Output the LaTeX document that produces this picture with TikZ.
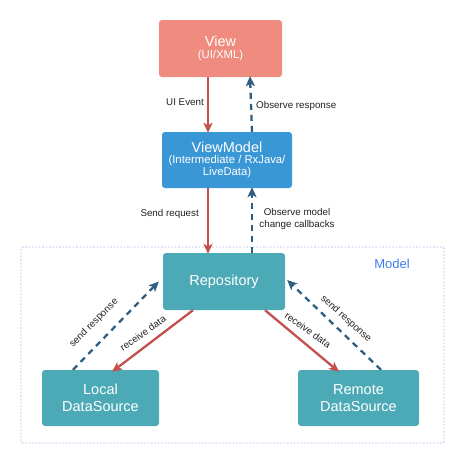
\documentclass[tikz,border=0pt]{standalone}
\usepackage{fontspec}
\setmainfont{Liberation Sans}
\usetikzlibrary{arrows.meta,calc}
\definecolor{viewc}{HTML}{F08C7F}
\definecolor{vmc}{HTML}{3A97D6}
\definecolor{repc}{HTML}{4BAAB6}
\definecolor{redarr}{HTML}{C2514E}
\definecolor{bluearr}{HTML}{2F5E80}
\definecolor{modelbox}{HTML}{A5B6E2}
\definecolor{modeltext}{HTML}{3D7EF0}
\definecolor{labc}{HTML}{222222}
\tikzset{
  box/.style={rounded corners=3pt, text=white, align=center, inner sep=0pt},
  title/.style={font=\fontsize{14.5}{17}\selectfont},
  reqarrow/.style={draw=redarr, line width=2.3pt, -{Stealth[length=10pt,width=9pt,inset=2.5pt]}},
  resparrow/.style={draw=bluearr, line width=2.3pt, dash pattern=on 6pt off 5pt, -{Stealth[length=10pt,width=9pt,inset=2.5pt]}},
  lab/.style={font=\fontsize{9.8}{11.5}\selectfont, text=labc, inner sep=1pt}
}
\begin{document}
\begin{tikzpicture}[x=1pt,y=-1pt]
\useasboundingbox (0,0) rectangle (472,458);
% Model container
\draw[modelbox, line width=0.8pt, dash pattern=on 1.6pt off 1.8pt, rounded corners=2pt] (21,247) rectangle (444,443);
\node[font=\fontsize{13}{15}\selectfont, text=modeltext] (modellab) at (392,264) {Model};
% Boxes
\node[box, fill=viewc, minimum width=123pt, minimum height=57pt] (view) at (220.5,48.5)
  {{\fontsize{14.5}{17}\selectfont View}\\[0pt]{\fontsize{11.3}{13.5}\selectfont (UI/XML)}};
\node[box, fill=vmc, minimum width=130pt, minimum height=56pt] (vm) at (227,160)
  {{\fontsize{14.5}{16}\selectfont ViewModel}\\[-1pt]{\fontsize{11.3}{13}\selectfont (Intermediate / RxJava/}\\{\fontsize{11.3}{13}\selectfont LiveData)}};
\node[box, fill=repc, minimum width=122pt, minimum height=57pt, title] (repo) at (224,281.5) {Repository};
\node[box, fill=repc, minimum width=117pt, minimum height=56pt, title] (local) at (100.5,398) {Local\\DataSource};
\node[box, fill=repc, minimum width=121pt, minimum height=56pt, title] (remote) at (358.5,398) {Remote\\DataSource};
% Vertical connectors
\draw[reqarrow] ([xshift=-12.5pt]view.south) -- ([xshift=-19pt,yshift=-1pt]vm.north);
\draw[resparrow] ([xshift=25pt]vm.north) -- ([xshift=29.5pt,yshift=1pt]view.south);
\draw[reqarrow] ([xshift=-19pt]vm.south) -- ([xshift=-16pt,yshift=-1pt]repo.north);
\draw[resparrow] ([xshift=28pt]repo.north) -- ([xshift=25pt,yshift=1pt]vm.south);
% Diagonal connectors
\draw[reqarrow] ([xshift=-31pt]repo.south) -- ([xshift=11.5pt,yshift=-2pt]local.north);
\draw[resparrow] ([xshift=-27.5pt]local.north) -- ([xshift=-4pt]repo.west);
\draw[reqarrow] ([xshift=41pt]repo.south) -- ([xshift=-19.5pt,yshift=-2pt]remote.north);
\draw[resparrow] ([xshift=22.5pt]remote.north) -- ([xshift=2pt,yshift=1.5pt]repo.east);
% Labels
\node[lab, anchor=east] (l1) at (205,102) {UI Event};
\node[lab, anchor=west] (l2) at (255,106) {Observe response};
\node[lab, anchor=east] (l3) at (200,214) {Send request};
\node[lab, align=center] (l4) at (297,219) {Observe model\\change callbacks};
\node[lab, rotate=45] (l5) at (94,323) {send response};
\node[lab, rotate=35] (l6) at (143,333) {receive data};
\node[lab, rotate=-35] (l7) at (308,330) {receive data};
\node[lab, rotate=-42] (l8) at (346,319) {send response};
\end{tikzpicture}
\end{document}
